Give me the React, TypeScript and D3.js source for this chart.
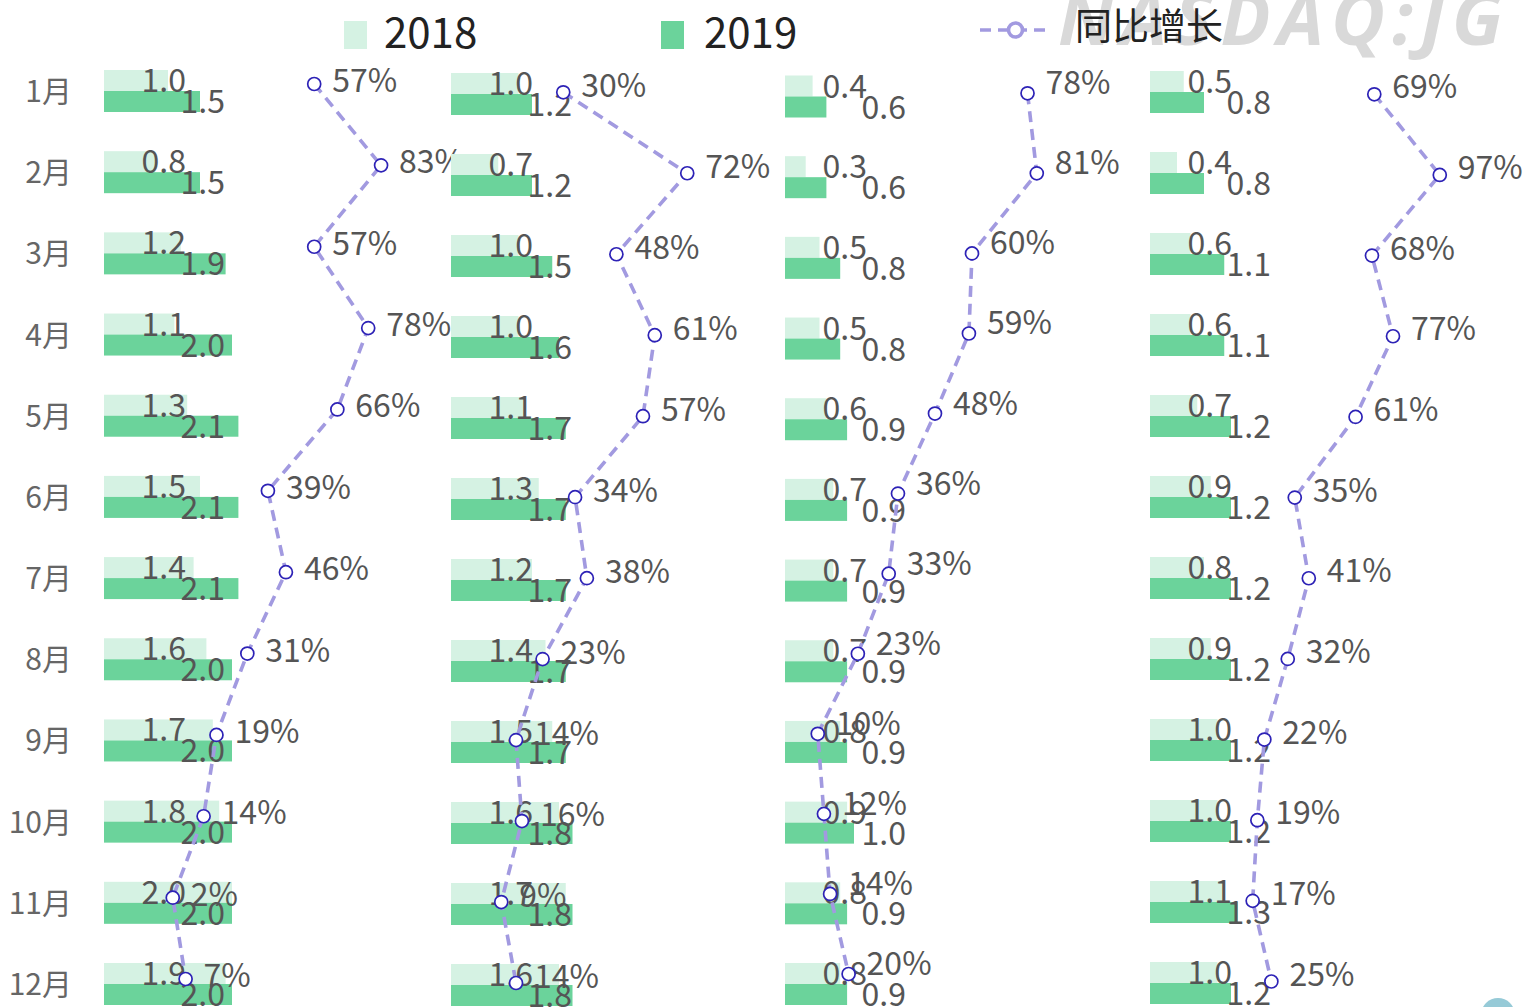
import React from "react";
import * as d3 from "d3";

const months = ["1月", "2月", "3月", "4月", "5月", "6月", "7月", "8月", "9月", "10月", "11月", "12月"];

const p1_2018 = [1.0, 0.8, 1.2, 1.1, 1.3, 1.5, 1.4, 1.6, 1.7, 1.8, 2.0, 1.9];
const p1_2019 = [1.5, 1.5, 1.9, 2.0, 2.1, 2.1, 2.1, 2.0, 2.0, 2.0, 2.0, 2.0];
const p1_growth = [57, 83, 57, 78, 66, 39, 46, 31, 19, 14, 2, 7];

const p2_2018 = [1.0, 0.7, 1.0, 1.0, 1.1, 1.3, 1.2, 1.4, 1.5, 1.6, 1.7, 1.6];
const p2_2019 = [1.2, 1.2, 1.5, 1.6, 1.7, 1.7, 1.7, 1.7, 1.7, 1.8, 1.8, 1.8];
const p2_growth = [30, 72, 48, 61, 57, 34, 38, 23, 14, 16, 9, 14];

const p3_2018 = [0.4, 0.3, 0.5, 0.5, 0.6, 0.7, 0.7, 0.7, 0.8, 0.9, 0.8, 0.8];
const p3_2019 = [0.6, 0.6, 0.8, 0.8, 0.9, 0.9, 0.9, 0.9, 0.9, 1.0, 0.9, 0.9];
const p3_growth = [78, 81, 60, 59, 48, 36, 33, 23, 10, 12, 14, 20];

const p4_2018 = [0.5, 0.4, 0.6, 0.6, 0.7, 0.9, 0.8, 0.9, 1.0, 1.0, 1.1, 1.0];
const p4_2019 = [0.8, 0.8, 1.1, 1.1, 1.2, 1.2, 1.2, 1.2, 1.2, 1.2, 1.3, 1.2];
const p4_growth = [69, 97, 68, 77, 61, 35, 41, 32, 22, 19, 17, 25];

const legendLabels = ["2018", "2019", "同比增长"];
const watermark = "NASDAQ:JG";

const C18 = "#d5f2e3";
const C19 = "#6bd39b";
const LINE = "#a29ae0";
const DOT = "#2d22b6";
const TXT = "#555555";
const FONT = "'Noto Sans CJK SC', 'Noto Sans', sans-serif";

const panels = [
  { a: p1_2018, b: p1_2019, g: p1_growth, x0: 104, unit: 64, lineX: [167.6, 424.8], rowY: [91, 984], lineY: [84, 979], ldy: 8 },
  { a: p2_2018, b: p2_2019, g: p2_growth, x0: 451, unit: 67.5, lineX: [474.7, 769.9], rowY: [94, 985], lineY: [92.3, 983], ldy: 5 },
  { a: p3_2018, b: p3_2019, g: p3_growth, x0: 785, unit: 69, lineX: [786.9, 1095.4], rowY: [96.5, 984], lineY: [93.3, 974], ldy: 1 },
  { a: p4_2018, b: p4_2019, g: p4_growth, x0: 1150, unit: 67.5, lineX: [1212.9, 1446.8], rowY: [92, 983], lineY: [94.3, 981.5], ldy: 4 },
];

const BAR_H = 21;

function Panel({ p }: { p: any }) {
  const x = d3.scaleLinear().domain([0, 1]).range([p.x0, p.x0 + p.unit]);
  const y = d3.scalePoint<string>().domain(months).range(p.rowY);
  const lx = d3.scaleLinear().domain([0, 100]).range(p.lineX);
  const ly = d3.scalePoint<string>().domain(months).range(p.lineY);
  const line = d3
    .line<number>()
    .x((d) => lx(d))
    .y((_, i) => ly(months[i]) as number);
  return (
    <g>
      {months.map((m, i) => {
        const c = y(m) as number;
        return (
          <g key={m}>
            <rect x={x(0)} y={c - BAR_H} width={x(p.a[i]) - x(0)} height={BAR_H} fill={C18} />
            <rect x={x(0)} y={c} width={x(p.b[i]) - x(0)} height={BAR_H} fill={C19} />
          </g>
        );
      })}
      {months.map((m, i) => {
        const c = y(m) as number;
        return (
          <g key={"l" + m} fontFamily={FONT} fontSize={32} fill={TXT} textAnchor="end">
            <text x={x(0) + 82} y={c - BAR_H / 2 + 11.5}>{p.a[i].toFixed(1)}</text>
            <text x={x(0) + 121} y={c + BAR_H / 2 + 11.5}>{p.b[i].toFixed(1)}</text>
          </g>
        );
      })}
      <path d={line(p.g) as string} fill="none" stroke={LINE} strokeWidth={3.6} strokeDasharray="11,7" />
      {p.g.map((g: number, i: number) => (
        <circle key={"c" + i} cx={lx(g)} cy={ly(months[i])} r={6.5} fill="#fff" stroke={DOT} strokeWidth={1.7} />
      ))}
      {p.g.map((g: number, i: number) => (
        <text key={"t" + i} x={lx(g) + 18} y={(ly(months[i]) as number) + p.ldy} fontFamily={FONT} fontSize={32} fill={TXT}>
          {g}%
        </text>
      ))}
    </g>
  );
}

export default function App() {
  const my = d3.scalePoint<string>().domain(months).range([91, 984]);
  return (
    <svg width={1526} height={1007} style={{ position: "fixed", left: 0, top: 0, background: "#fff" }}>
      <text x={1058} y={45} fontFamily="'Open Sans', 'Noto Sans', sans-serif" fontWeight={700} fontStyle="italic" fontSize={74} letterSpacing={7} fill="#d9d9d9">
        {watermark}
      </text>
      {/* legend */}
      <rect x={344} y={21} width={23} height={28} fill={C18} />
      <text x={384} y={48} fontFamily={FONT} fontSize={42} fill="#222">{legendLabels[0]}</text>
      <rect x={661} y={21} width={23} height={28} fill={C19} />
      <text x={704} y={48} fontFamily={FONT} fontSize={42} fill="#222">{legendLabels[1]}</text>
      <line x1={980} x2={1051} y1={30} y2={30} stroke={LINE} strokeWidth={3.6} strokeDasharray="11,7" />
      <circle cx={1015.5} cy={30} r={7} fill="#fff" stroke={LINE} strokeWidth={3.6} />
      <text x={1075} y={40} fontFamily={FONT} fontSize={37} fill="#222">{legendLabels[2]}</text>
      {months.map((m) => (
        <text key={m} x={72} y={(my(m) as number) + 11} textAnchor="end" fontFamily={FONT} fontSize={30} fill="#666">
          {m}
        </text>
      ))}
      {panels.map((p, i) => (
        <Panel key={i} p={p} />
      ))}
      <circle cx={1498} cy={1015} r={17} fill="#96cad7" />
    </svg>
  );
}
